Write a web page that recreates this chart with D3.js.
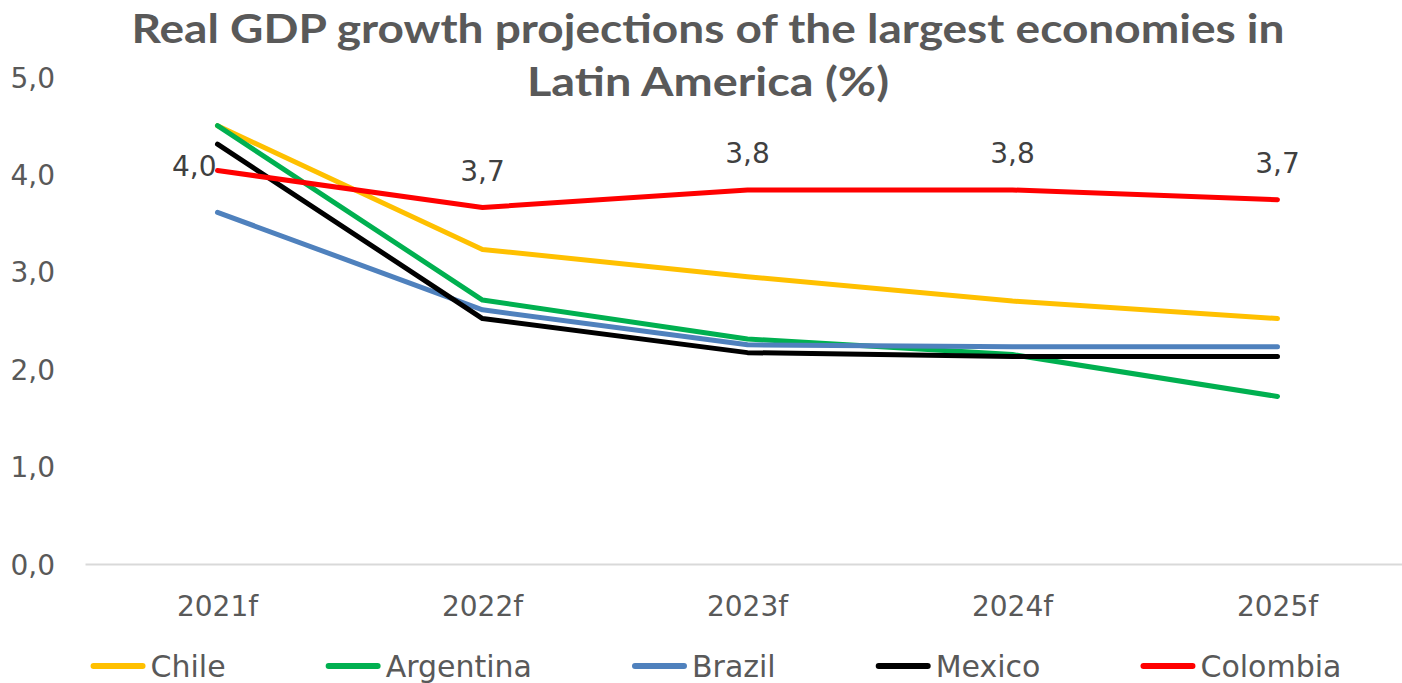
<!DOCTYPE html>
<html>
<head>
<meta charset="utf-8">
<script src="https://cdn.jsdelivr.net/npm/d3@7"></script>
<style>
  html, body { margin: 0; padding: 0; background: #ffffff; }
  svg { display: block; }
</style>
</head>
<body>
<svg id="chart" width="1402" height="683"></svg>
<script>
// Forecast years on the category axis
const years = ["2021f", "2022f", "2023f", "2024f", "2025f"];

// Real GDP growth projections (%) by country
const chile     = [4.50, 3.23, 2.95, 2.70, 2.52];
const argentina = [4.50, 2.71, 2.31, 2.15, 1.72];
const brazil    = [3.61, 2.61, 2.25, 2.23, 2.23];
const mexico    = [4.31, 2.52, 2.17, 2.13, 2.13];
const colombia  = [4.04, 3.66, 3.84, 3.84, 3.74];

// Y axis ticks
const yTicks = [0, 1, 2, 3, 4, 5];

// Colombia's value labels: first one sits left of its point, the rest above
const colombiaLabelSide = ["left", "above", "above", "above", "above"];

const seriesNames  = ["Chile", "Argentina", "Brazil", "Mexico", "Colombia"];
const seriesValues = [chile, argentina, brazil, mexico, colombia];
const seriesColors = ["#FFC000", "#00B050", "#4F81BD", "#000000", "#FF0000"];

const series = seriesNames.map((name, i) => ({
  name, color: seriesColors[i], values: seriesValues[i]
}));

const svg = d3.select("#chart");
const font = "'DejaVu Sans', sans-serif";
const comma = v => d3.format(".1f")(v).replace(".", ",");

const x = d3.scaleBand().domain(years).range([85, 1410]).padding(0);
const xc = d => x(d) + x.bandwidth() / 2;
const y = d3.scaleLinear().domain([0, 5]).range([564, 77]);

// Title
const title = svg.append("g")
  .attr("font-family", "Lato, sans-serif")
  .attr("font-weight", "bold")
  .attr("font-size", 41)
  .attr("fill", "#595959")
  .attr("text-anchor", "middle");
title.append("text").attr("x", 708).attr("y", 43)
  .attr("textLength", 1153).attr("lengthAdjust", "spacingAndGlyphs")
  .text("Real GDP growth projections of the largest economies in");
title.append("text").attr("x", 708).attr("y", 96)
  .attr("textLength", 362).attr("lengthAdjust", "spacingAndGlyphs")
  .text("Latin America (%)");

// Y axis: labels only
const yAxis = svg.append("g")
  .attr("transform", "translate(55,0)")
  .call(d3.axisLeft(y).tickValues(yTicks).tickFormat(comma).tickSize(0).tickPadding(0));
yAxis.select(".domain").remove();
yAxis.selectAll("text")
  .attr("font-family", font).attr("font-size", 28).attr("fill", "#595959")
  .attr("dy", "0.36em");

// Category axis along the zero line
const xAxis = svg.append("g")
  .attr("transform", `translate(0,${y(0)})`)
  .call(d3.axisBottom(x).tickSize(0).tickPadding(0));
xAxis.select(".domain").attr("stroke", "#D9D9D9").attr("stroke-width", 2);
xAxis.selectAll("text")
  .attr("font-family", font).attr("font-size", 28).attr("fill", "#595959")
  .attr("dy", null).attr("y", 52);

// Lines
const line = d3.line().x((d, i) => xc(years[i])).y(d => y(d));
svg.append("g").selectAll("path")
  .data(series)
  .join("path")
  .attr("d", d => line(d.values))
  .attr("fill", "none")
  .attr("stroke", d => d.color)
  .attr("stroke-width", 5)
  .attr("stroke-linejoin", "round")
  .attr("stroke-linecap", "round");

// Colombia value labels
svg.append("g")
  .attr("font-family", font).attr("font-size", 28).attr("fill", "#404040")
  .selectAll("text")
  .data(colombia)
  .join("text")
  .attr("x", (d, i) => colombiaLabelSide[i] === "left" ? xc(years[i]) - 1 : xc(years[i]))
  .attr("y", (d, i) => colombiaLabelSide[i] === "left" ? y(d) + 5 : y(d) - 27)
  .attr("text-anchor", (d, i) => colombiaLabelSide[i] === "left" ? "end" : "middle")
  .text(d => comma(d));

// Legend, centred below the axis
const legend = svg.append("g");
const items = legend.selectAll("g").data(series).join("g");
items.append("line")
  .attr("x1", 3).attr("x2", 52).attr("y1", 0).attr("y2", 0)
  .attr("stroke", d => d.color).attr("stroke-width", 6).attr("stroke-linecap", "round");
items.append("text")
  .attr("x", 60).attr("y", 11)
  .attr("font-family", font).attr("font-size", 30).attr("fill", "#595959")
  .text(d => d.name);

let cursor = 0;
const itemGap = 100;
items.each(function () {
  const g = d3.select(this);
  const w = 60 + g.select("text").node().getComputedTextLength();
  g.attr("transform", `translate(${cursor},666)`);
  cursor += w + itemGap;
});
const total = cursor - itemGap;
legend.attr("transform", `translate(${716 - total / 2},0)`);
</script>
</body>
</html>
